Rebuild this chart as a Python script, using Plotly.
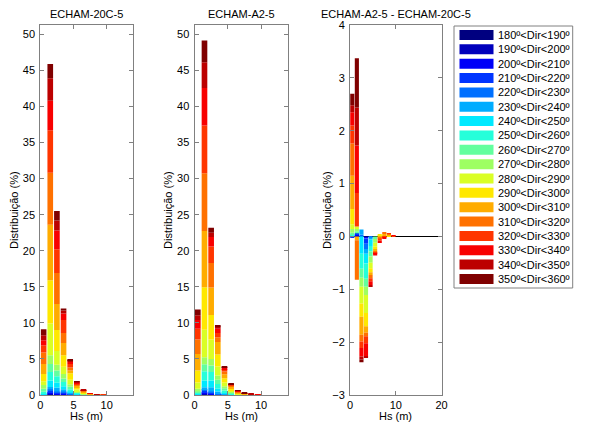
import plotly.graph_objects as go

W, H = 607, 430

# ---------------- data ----------------
dir_lo = [180, 190, 200, 210, 220, 230, 240, 250, 260, 270, 280, 290, 300, 310, 320, 330, 340, 350]
sector_labels = [f"{d}\u00ba<Dir<{d + 10}\u00ba" for d in dir_lo]
hs_centres = [0.5, 1.5, 2.5, 3.5, 4.5, 5.5, 6.5, 7.5, 8.5, 9.5]

titles = ["ECHAM-20C-5", "ECHAM-A2-5", "ECHAM-A2-5 - ECHAM-20C-5"]
y_label = "Distribui\u00e7\u00e3o (%)"
x_label = "Hs (m)"

# rows: sectors 180..350, columns: Hs bins
echam_20c = [
    [0, 0.05, 0, 0, 0, 0, 0, 0, 0, 0],
    [0, 0.1, 0.05, 0.05, 0.01, 0, 0, 0, 0, 0],
    [0, 0.2, 0.1, 0.1, 0.03, 0.01, 0, 0, 0, 0],
    [0, 0.25, 0.15, 0.15, 0.05, 0.02, 0, 0, 0, 0],
    [0.03, 0.2, 0.2, 0.2, 0.08, 0.03, 0, 0, 0, 0],
    [0.07, 0.3, 0.5, 0.3, 0.13, 0.05, 0.01, 0, 0, 0],
    [0.15, 0.9, 0.7, 0.4, 0.2, 0.07, 0.02, 0, 0, 0],
    [0.2, 1.2, 0.9, 0.6, 0.3, 0.1, 0.03, 0, 0, 0],
    [0.4, 1.1, 0.8, 0.5, 0.35, 0.12, 0.04, 0.01, 0, 0],
    [0.55, 1.2, 0.8, 0.6, 0.35, 0.15, 0.05, 0.02, 0, 0],
    [0.5, 4.4, 1.9, 1.0, 0.6, 0.2, 0.08, 0.03, 0, 0],
    [1.0, 6.0, 2.9, 1.6, 0.9, 0.3, 0.12, 0.05, 0.02, 0],
    [1.4, 7.7, 3.6, 1.7, 0.4, 0.25, 0.12, 0.05, 0.02, 0.01],
    [1.6, 7.2, 4.3, 1.4, 0.4, 0.2, 0.1, 0.04, 0.02, 0.01],
    [1.0, 5.9, 3.3, 1.8, 0.5, 0.15, 0.07, 0.03, 0.02, 0.01],
    [0.7, 4.1, 2.6, 0.9, 0.3, 0.1, 0.04, 0.02, 0.01, 0],
    [0.7, 3.1, 1.4, 0.4, 0.18, 0.06, 0.02, 0, 0.01, 0],
    [0.8, 2.0, 1.3, 0.3, 0.1, 0.04, 0, 0, 0, 0],
]

echam_a2 = [
    [0, 0.05, 0.02, 0, 0, 0, 0, 0, 0, 0],
    [0, 0.1, 0.05, 0.01, 0, 0, 0, 0, 0, 0],
    [0, 0.2, 0.1, 0.04, 0.02, 0, 0, 0, 0, 0],
    [0, 0.25, 0.15, 0.07, 0.04, 0.01, 0, 0, 0, 0],
    [0.02, 0.2, 0.18, 0.13, 0.06, 0.02, 0, 0, 0, 0],
    [0.03, 0.27, 0.57, 0.25, 0.1, 0.04, 0, 0, 0, 0],
    [0.1, 0.93, 0.93, 0.4, 0.15, 0.06, 0.01, 0, 0, 0],
    [0.15, 1.3, 1.2, 0.63, 0.25, 0.1, 0.02, 0, 0, 0],
    [0.2, 0.95, 0.9, 0.57, 0.3, 0.12, 0.03, 0, 0, 0],
    [0.35, 1.0, 0.9, 0.6, 0.3, 0.14, 0.04, 0.01, 0, 0],
    [0.9, 3.8, 2.7, 1.25, 0.5, 0.2, 0.07, 0.03, 0, 0],
    [1.65, 5.9, 3.4, 1.65, 0.6, 0.25, 0.1, 0.05, 0.02, 0],
    [2.3, 7.8, 3.8, 1.75, 0.55, 0.2, 0.1, 0.06, 0.03, 0.01],
    [2.0, 8.0, 3.4, 0.65, 0.4, 0.15, 0.09, 0.05, 0.03, 0.01],
    [1.5, 6.6, 2.3, 0.6, 0.3, 0.12, 0.07, 0.04, 0.03, 0.01],
    [1.2, 5.2, 1.3, 0.6, 0.2, 0.07, 0.04, 0.02, 0.02, 0.01],
    [0.67, 3.6, 0.6, 0.3, 0.1, 0.03, 0.02, 0.01, 0.01, 0],
    [0.8, 3.0, 0.7, 0.17, 0.08, 0.02, 0.01, 0.01, 0, 0],
]

echam_diff = [
    [0, 0, 0, 0, 0, 0, 0, 0, 0, 0],
    [0, 0.02, 0, 0, 0, 0, 0, 0, 0, 0],
    [-0.01, 0.02, 0, -0.04, 0, 0, 0, 0, 0, 0],
    [-0.01, 0.02, 0, -0.1, 0, 0, 0, 0, 0, 0],
    [0, 0, 0.03, -0.1, -0.02, 0, 0, 0, 0, 0],
    [0.01, 0, 0.1, -0.09, -0.04, 0, 0, 0, 0, 0],
    [0.01, 0, -0.33, -0.18, -0.12, 0, 0, 0, 0, 0],
    [0.02, 0, -0.28, -0.29, -0.1, 0, 0, 0, 0, 0],
    [0.03, 0.04, -0.17, -0.15, -0.1, -0.05, 0, 0, 0, 0],
    [0.07, 0.04, -0.17, -0.16, -0.12, -0.07, 0, 0, 0, 0],
    [0.09, 0.05, -0.32, -0.34, -0.1, -0.07, 0.01, 0, 0, 0],
    [0.29, 0, -0.25, -0.25, -0.08, -0.05, 0.03, 0.02, 0.02, 0],
    [0.63, -0.07, -0.34, -0.12, -0.05, -0.04, -0.02, 0.03, 0.02, 0],
    [0.61, -0.75, -0.13, -0.07, -0.06, -0.03, -0.02, 0.02, 0.01, 0],
    [0.34, 0.63, -0.12, -0.13, -0.06, -0.02, -0.04, -0.02, 0.01, 0.01],
    [0.25, 0.9, -0.16, -0.25, -0.07, -0.03, -0.045, -0.03, 0, 0.01],
    [0.13, 0.72, -0.06, -0.03, -0.02, 0, 0, 0, 0, 0],
    [0.22, 0.93, -0.05, 0, 0, 0, 0, 0, 0, 0],
]

# ---------------- style ----------------
FONT = "Liberation Sans, Arial, Helvetica, sans-serif"
AXIS_COL = "#808080"


def jet(t):
    def c(v):
        return max(0.0, min(1.0, v))
    r = c(1.5 - abs(4 * t - 3))
    g = c(1.5 - abs(4 * t - 2))
    b = c(1.5 - abs(4 * t - 1))
    return f"rgb({round(r * 255)},{round(g * 255)},{round(b * 255)})"


n = len(dir_lo)
colors = [jet(i / (n - 1)) for i in range(n)]

fig = go.Figure()
datasets = [(echam_20c, "x", "y", 0.85), (echam_a2, "x2", "y2", 0.85), (echam_diff, "x3", "y3", 0.9)]
for data, xa, ya, w in datasets:
    for i in range(n):
        fig.add_trace(go.Bar(
            x=hs_centres, y=data[i], name=sector_labels[i], width=w,
            marker=dict(color=colors[i], line=dict(width=0)),
            xaxis=xa, yaxis=ya, showlegend=False,
        ))

# axis geometry (pixels)
px_left = [40.3, 194.5, 350.0]
px_right = [133.3, 287.7, 441.5]
y_top, y_bot = 25, 395
ydom = [1 - y_bot / H, 1 - y_top / H]

axis_common = dict(
    showline=True, linecolor=AXIS_COL, linewidth=1, mirror="ticks",
    ticks="inside", ticklen=4, tickcolor=AXIS_COL, showgrid=False,
    zeroline=False, automargin=False,
    tickfont=dict(family=FONT, size=11, color="black"),
)

xr = [[0, 14], [0, 14], [0, 20]]
xt = [[0, 5, 10], [0, 5, 10], [0, 10, 20]]
yr = [[0, 51.3], [0, 51.3], [-3, 4]]
yt = [list(range(0, 51, 5)), list(range(0, 51, 5)), list(range(-3, 5))]

layout_axes = {}
for k in range(3):
    sx = "" if k == 0 else str(k + 1)
    layout_axes[f"xaxis{sx}"] = dict(
        axis_common, domain=[px_left[k] / W, px_right[k] / W], range=xr[k],
        tickvals=xt[k], anchor=f"y{sx}", ticklabelstandoff=0,
    )
    yax = dict(
        axis_common, domain=ydom, range=yr[k], tickvals=yt[k], anchor=f"x{sx}",
        ticklabelstandoff=2,
    )
    if k == 2:
        yax["zeroline"] = True
        yax["zerolinecolor"] = "black"
        yax["zerolinewidth"] = 1
    layout_axes[f"yaxis{sx}"] = yax

annotations = []
ylab_px = [14, 168, 327]
for k in range(3):
    cx = (px_left[k] + px_right[k]) / 2 / W
    annotations.append(dict(text=titles[k], x=cx, y=1 - 14 / H, xref="paper", yref="paper",
                            xanchor="center", yanchor="middle", showarrow=False,
                            font=dict(family=FONT, size=11, color="black")))
    annotations.append(dict(text=x_label, x=cx, y=1 - 416 / H, xref="paper", yref="paper",
                            xanchor="center", yanchor="middle", showarrow=False,
                            font=dict(family=FONT, size=11, color="black")))
    annotations.append(dict(text=y_label, x=ylab_px[k] / W, y=1 - 210 / H, xref="paper", yref="paper",
                            xanchor="center", yanchor="middle", showarrow=False, textangle=-90,
                            font=dict(family=FONT, size=11, color="black")))

# custom legend box (wide colour swatches)
shapes = [dict(type="rect", xref="paper", yref="paper",
               x0=454 / W, x1=572.7 / W, y0=1 - 288 / H, y1=1 - 26 / H,
               line=dict(color=AXIS_COL, width=1), fillcolor="white", layer="below")]
for i in range(n):
    yc = 35 + 14.35 * i
    shapes.append(dict(type="rect", xref="paper", yref="paper",
                       x0=459.5 / W, x1=493.5 / W, y0=1 - (yc + 5) / H, y1=1 - (yc - 5) / H,
                       line=dict(width=0), fillcolor=colors[i]))
    annotations.append(dict(text=sector_labels[i], x=496 / W, y=1 - yc / H, xref="paper", yref="paper",
                            xanchor="left", yanchor="middle", showarrow=False,
                            font=dict(family=FONT, size=11, color="black")))

fig.update_layout(
    width=W, height=H, margin=dict(l=0, r=0, t=0, b=0, pad=0),
    paper_bgcolor="white", plot_bgcolor="white",
    barmode="relative", showlegend=False,
    annotations=annotations, shapes=shapes,
    font=dict(family=FONT, size=11, color="black"),
    **layout_axes,
)

fig.write_html("out.html", config={"displayModeBar": False},
               post_script="document.body.style.margin='0px';")
